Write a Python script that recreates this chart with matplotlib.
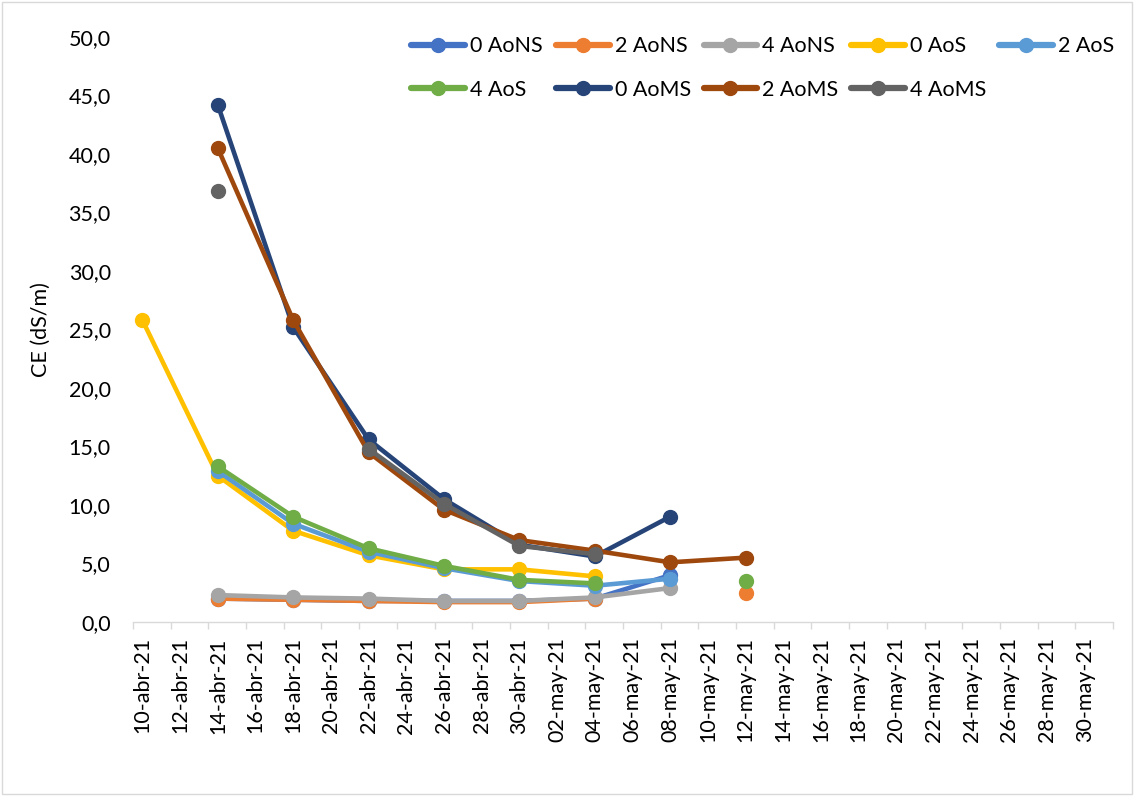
import matplotlib
matplotlib.use("Agg")
import matplotlib.pyplot as plt
import matplotlib.dates as mdates
import numpy as np
from datetime import date, timedelta

plt.rcParams['font.family'] = ['Lato', 'DejaVu Sans']

nan = np.nan
dates = [date(2021, 4, 10), date(2021, 4, 14), date(2021, 4, 18), date(2021, 4, 22),
         date(2021, 4, 26), date(2021, 4, 30), date(2021, 5, 4), date(2021, 5, 8),
         date(2021, 5, 12)]

series_names = ["0 AoNS", "2 AoNS", "4 AoNS", "0 AoS", "2 AoS", "4 AoS",
                "0 AoMS", "2 AoMS", "4 AoMS"]
aons0 = [nan, 2.0, 1.9, 1.8, 1.8, 1.8, 2.0, 4.0, nan]
aons2 = [nan, 2.0, 1.9, 1.8, 1.7, 1.7, 2.0, nan, 2.5]
aons4 = [nan, 2.3, 2.1, 2.0, 1.8, 1.8, 2.1, 2.9, nan]
aos0 = [25.8, 12.5, 7.8, 5.7, 4.5, 4.5, 3.9, nan, nan]
aos2 = [nan, 12.9, 8.4, 6.0, 4.6, 3.5, 3.1, 3.7, nan]
aos4 = [nan, 13.3, 9.0, 6.3, 4.8, 3.6, 3.3, nan, 3.5]
aoms0 = [nan, 44.2, 25.2, 15.6, 10.5, 6.6, 5.6, 9.0, nan]
aoms2 = [nan, 40.5, 25.8, 14.5, 9.6, 7.0, 6.1, 5.1, 5.5]
aoms4 = [nan, 36.8, nan, 14.8, 10.1, 6.5, 5.8, nan, nan]
series_values = [aons0, aons2, aons4, aos0, aos2, aos4, aoms0, aoms2, aoms4]
colors = ["#4472C4", "#ED7D31", "#A5A5A5", "#FFC000", "#5B9BD5", "#70AD47",
          "#264478", "#9E480E", "#636363"]

month_abbr = {4: "abr", 5: "may"}
tick_dates = [date(2021, 4, 10) + timedelta(days=2 * i) for i in range(26)]
tick_labels = [f"{d.day:02d}-{month_abbr[d.month]}-21" for d in tick_dates]

W, H = 1134, 796
fig = plt.figure(figsize=(W / 100, H / 100), dpi=100)
left_px, right_px, top_px, bot_px = 133, 1113, 37, 622
ax = fig.add_axes([left_px / W, 1 - bot_px / H, (right_px - left_px) / W,
                   (bot_px - top_px) / H])

handles = []
for name, vals, c in zip(series_names, series_values, colors):
    h, = ax.plot(dates, vals, color=c, lw=3.3, marker='o', ms=10,
                 solid_capstyle='round', label=name)
    handles.append(h)

ax.set_ylim(0, 50)
yt = np.arange(0, 50.1, 5)
ax.set_yticks(yt)
ax.set_yticklabels([f"{v:.1f}".replace('.', ',') for v in yt], fontsize=15.5)
d0 = mdates.date2num(date(2021, 4, 10))
ax.set_xlim(d0 - 0.5, mdates.date2num(date(2021, 5, 31)) + 0.5)
ax.set_xticks([mdates.date2num(d) for d in tick_dates])
ax.set_xticklabels(tick_labels, rotation=90, fontsize=15.5)
ax.set_xticks([mdates.date2num(d) - 0.5 for d in tick_dates] +
              [mdates.date2num(tick_dates[-1]) + 1.5], minor=True)
ax.tick_params(axis='x', which='major', length=0, pad=11)
ax.tick_params(axis='x', which='minor', length=5, color='#D9D9D9', width=1)
ax.tick_params(axis='y', length=0, pad=16)
for s in ['top', 'right', 'left']:
    ax.spines[s].set_visible(False)
ax.spines['bottom'].set_color('#D9D9D9')
ax.spines['bottom'].set_linewidth(1)
ax.set_ylabel("CE (dS/m)", fontsize=15.5, labelpad=13)

order = [0, 5, 1, 6, 2, 7, 3, 8, 4]
leg = ax.legend([handles[i] for i in order], [series_names[i] for i in order],
                ncol=5, loc='upper right', bbox_to_anchor=(1.01, 1.016),
                frameon=False, fontsize=15.5, handlelength=2.5, handletextpad=0.23,
                columnspacing=0.6, labelspacing=1.1, borderaxespad=0)
for lh in leg.get_lines():
    lh.set_linewidth(4.5)

fig.patches.append(plt.Rectangle((0.002, 0.002), 0.996, 0.996, transform=fig.transFigure,
                                 fill=False, edgecolor='#D9D9D9', lw=1))
fig.savefig("out.png", dpi=100)
